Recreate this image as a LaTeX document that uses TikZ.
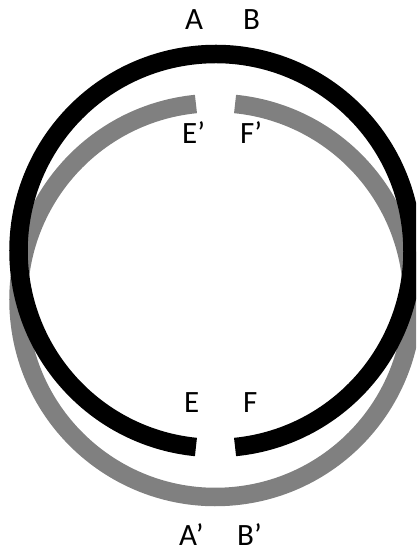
\documentclass[tikz,border=0pt]{standalone}
\usepackage{fontspec}
\setmainfont{Carlito}
\begin{document}
\begin{tikzpicture}[x=1pt,y=1pt,
  ring/.style={line width=18.5pt,line cap=butt},
  blackring/.style={ring,draw=black},
  grayring/.style={ring,draw=gray50},
  lbl/.style={anchor=base west,inner sep=0pt,font=\fontsize{31}{31}\selectfont}]
\definecolor{gray50}{RGB}{128,128,128}
\useasboundingbox (0pt,0pt) rectangle (416pt,549pt);
\coordinate (gc) at (215.5pt,249pt);
\coordinate (bc) at (215.5pt,298pt);
\begin{scope}
\clip (0pt,0pt) rectangle (416pt,549pt);
\draw[grayring] ([shift={(95.7:197pt)}]gc) arc[start angle=95.7,end angle=444.3,radius=197pt];
\draw[blackring] ([shift={(-84.3:197pt)}]bc) arc[start angle=-84.3,end angle=264.3,radius=197pt];
\end{scope}
\node[lbl] (A) at (185pt,519pt) {A};
\node[lbl] (B) at (243pt,519pt) {B};
\node[lbl] (Ep) at (182pt,405pt) {E’};
\node[lbl] (Fp) at (240pt,405pt) {F’};
\node[lbl] (E) at (184pt,136pt) {E};
\node[lbl] (F) at (243pt,136pt) {F};
\node[lbl] (Ap) at (179pt,4pt) {A’};
\node[lbl] (Bp) at (237pt,4pt) {B’};
\end{tikzpicture}
\end{document}
